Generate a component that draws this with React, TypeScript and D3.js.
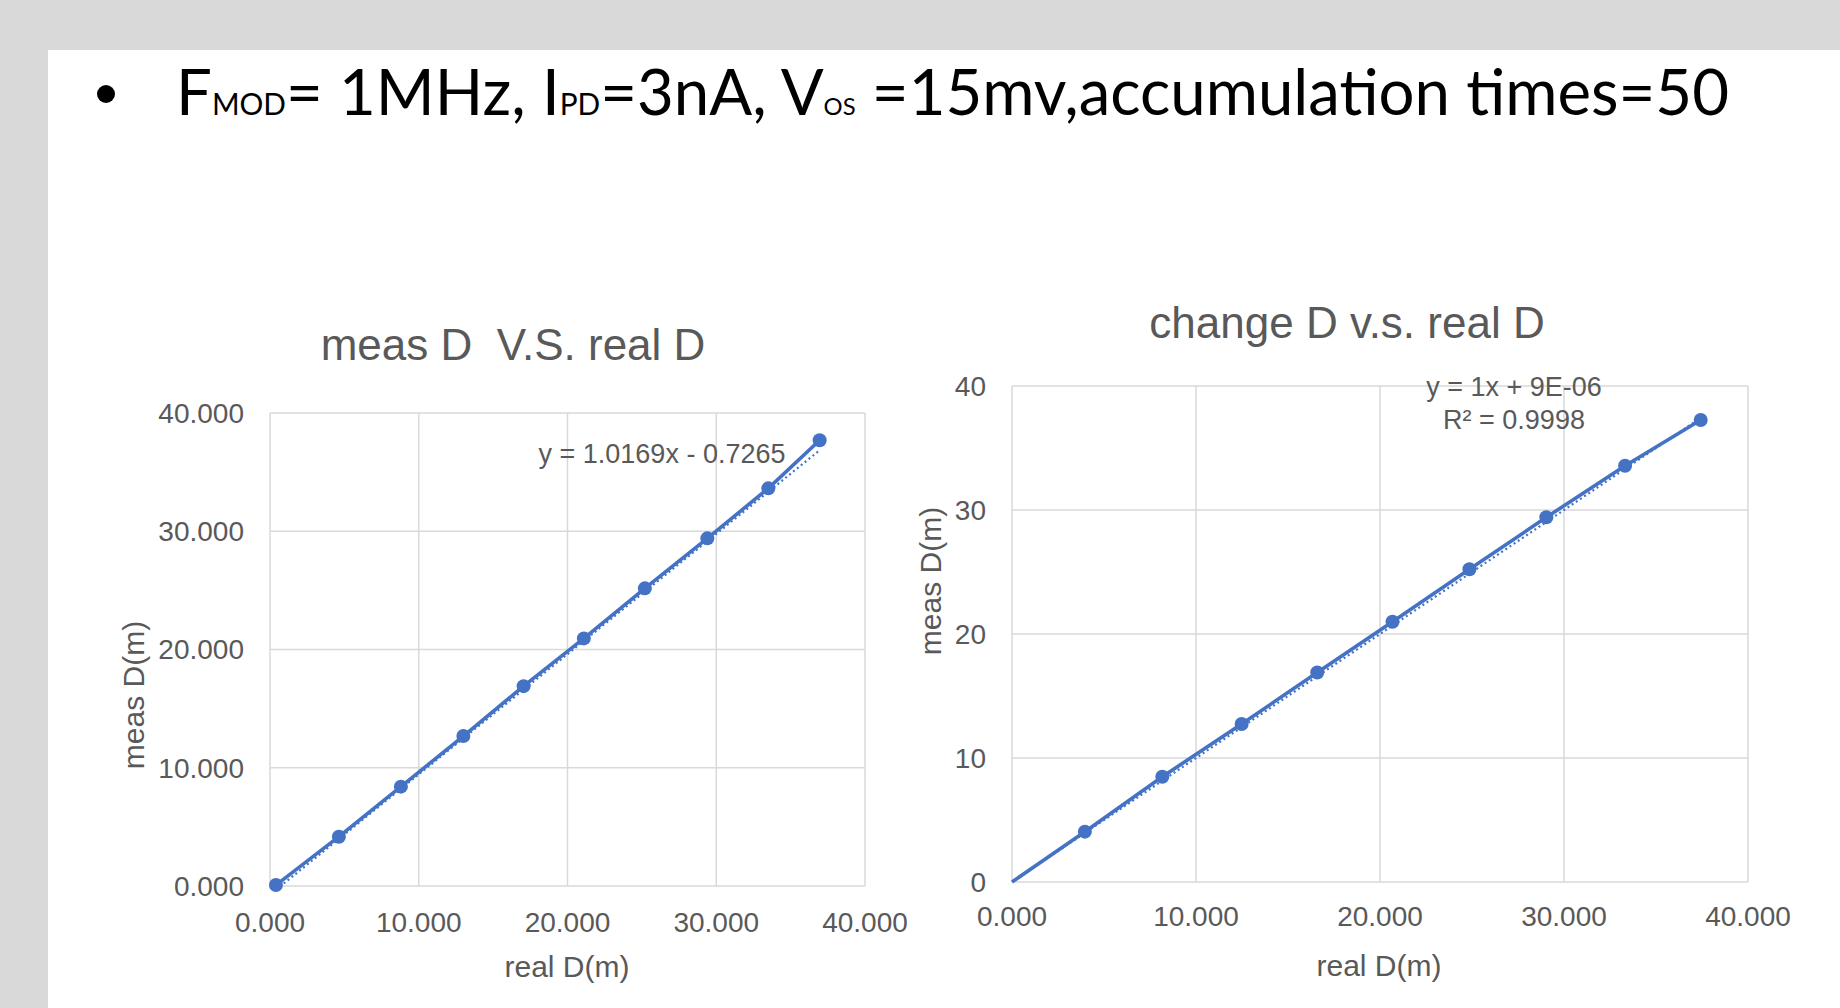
import React from "react";
import * as d3 from "d3";

// measured vs real distance, first chart
const realD1 = [0.4, 4.63, 8.8, 13.0, 17.05, 21.1, 25.2, 29.4, 33.5, 36.95];
const measD1 = [0.08, 4.17, 8.4, 12.68, 16.9, 20.94, 25.17, 29.4, 33.63, 37.7];
// second chart (starts at origin, no marker there)
const realD2 = [0, 3.96, 8.17, 12.48, 16.59, 20.68, 24.86, 29.04, 33.32, 37.43];
const measD2 = [0, 4.06, 8.49, 12.74, 16.9, 20.99, 25.22, 29.41, 33.57, 37.26];

const xTicks = [0, 10, 20, 30, 40];
const yTicks = [0, 10, 20, 30, 40];

const fit1 = { slope: 1.0169, intercept: -0.7265 };
const fit2 = { slope: 1, intercept: 9e-6 };
const fitLabel1 = ["y = 1.0169x - 0.7265"];
const fitLabel2 = ["y = 1x + 9E-06", "R\u00b2 = 0.9998"];

const blue = "#4472c4";
const gridColor = "#d9d9d9";
const textGray = "#595959";
const chartFont = "'Liberation Sans', Arial, sans-serif";

type ScatterProps = {
  id: string;
  xs: number[];
  ys: number[];
  fit: { slope: number; intercept: number };
  left: number;
  right: number;
  top: number;
  bottom: number;
  title: string;
  titleX: number;
  titleY: number;
  yFormat: (n: number) => string;
  yTickRight: number;
  xTickY: number;
  xTitle: [number, number];
  yTitle: [number, number];
  label: string[];
  labelX: number;
  labelY: number;
  skipFirstMarker?: boolean;
};

function Scatter(p: ScatterProps) {
  const x = d3.scaleLinear().domain([0, 40]).range([p.left, p.right]);
  const y = d3.scaleLinear().domain([0, 40]).range([p.bottom, p.top]);
  const pts: [number, number][] = p.xs.map((v, i) => [v, p.ys[i]]);
  const line = d3
    .line<[number, number]>()
    .x((d) => x(d[0]))
    .y((d) => y(d[1]));
  const xMin = d3.min(p.xs) as number;
  const xMax = d3.max(p.xs) as number;
  const trend: [number, number][] = [
    [xMin, p.fit.slope * xMin + p.fit.intercept],
    [xMax, p.fit.slope * xMax + p.fit.intercept],
  ];
  const fx = d3.format(".3f");

  return (
    <g fontFamily={chartFont} fill={textGray}>
      <defs>
        <clipPath id={p.id}>
          <rect x={p.left} y={p.top} width={p.right - p.left} height={p.bottom - p.top} />
        </clipPath>
      </defs>
      <text x={p.titleX} y={p.titleY} fontSize={44} textAnchor="middle">
        {p.title}
      </text>
      {yTicks.map((t) => (
        <line key={"h" + t} x1={p.left} x2={p.right} y1={y(t)} y2={y(t)} stroke={gridColor} strokeWidth={1.5} />
      ))}
      {xTicks.map((t) => (
        <line key={"v" + t} x1={x(t)} x2={x(t)} y1={p.top} y2={p.bottom} stroke={gridColor} strokeWidth={1.5} />
      ))}
      {yTicks.map((t) => (
        <text key={"yl" + t} x={p.yTickRight} y={y(t)} dy="0.35em" fontSize={28} textAnchor="end">
          {p.yFormat(t)}
        </text>
      ))}
      {xTicks.map((t) => (
        <text key={"xl" + t} x={x(t)} y={p.xTickY} fontSize={28} textAnchor="middle">
          {fx(t)}
        </text>
      ))}
      <text x={p.xTitle[0]} y={p.xTitle[1]} fontSize={30} textAnchor="middle">
        real D(m)
      </text>
      <text
        transform={`translate(${p.yTitle[0]},${p.yTitle[1]}) rotate(-90)`}
        dy="0.35em"
        fontSize={30}
        textAnchor="middle"
      >
        meas D(m)
      </text>
      <path
        d={line(trend) || ""}
        fill="none"
        stroke={blue}
        strokeWidth={2.2}
        strokeDasharray="2 3"
        clipPath={`url(#${p.id})`}
      />
      <path d={line(pts) || ""} fill="none" stroke={blue} strokeWidth={3.6} />
      {pts.map((d, i) =>
        p.skipFirstMarker && i === 0 ? null : (
          <circle key={i} cx={x(d[0])} cy={y(d[1])} r={7} fill={blue} />
        )
      )}
      {p.label.map((s, i) => (
        <text key={s} x={p.labelX} y={p.labelY + i * 33} fontSize={27} textAnchor="middle">
          {s}
        </text>
      ))}
    </g>
  );
}

export default function App() {
  return (
    <svg
      width={1840}
      height={1008}
      style={{ position: "absolute", left: 0, top: 0 }}
    >
      <rect width={1840} height={1008} fill="#d9d9d9" />
      <rect x={48} y={50} width={1792} height={958} fill="#ffffff" />
      <circle cx={106} cy={94} r={9} fill="#000" />
      <text
        x={176}
        y={115}
        fontFamily="Lato, 'Open Sans', sans-serif"
        fontSize={64}
        fill="#000"
        textLength={1553}
        lengthAdjust="spacingAndGlyphs"
      >
        F<tspan fontSize={30}>MOD</tspan>= 1MHz, I<tspan fontSize={30}>PD</tspan>=3nA, V
        <tspan fontSize={24}>OS</tspan> =15mv,accumulation times=50
      </text>

      <Scatter
        id="c1"
        xs={realD1}
        ys={measD1}
        fit={fit1}
        left={270}
        right={865}
        top={413}
        bottom={886}
        title={"meas D\u00a0 V.S. real D"}
        titleX={513}
        titleY={360}
        yFormat={d3.format(".3f")}
        yTickRight={244}
        xTickY={932}
        xTitle={[567, 977]}
        yTitle={[133, 695]}
        label={fitLabel1}
        labelX={662}
        labelY={463}
      />
      <Scatter
        id="c2"
        xs={realD2}
        ys={measD2}
        fit={fit2}
        left={1012}
        right={1748}
        top={386}
        bottom={882}
        title="change D v.s. real D"
        titleX={1347}
        titleY={338}
        yFormat={d3.format("d")}
        yTickRight={986}
        xTickY={926}
        xTitle={[1379, 976]}
        yTitle={[930, 581]}
        label={fitLabel2}
        labelX={1514}
        labelY={396}
        skipFirstMarker
      />
    </svg>
  );
}
